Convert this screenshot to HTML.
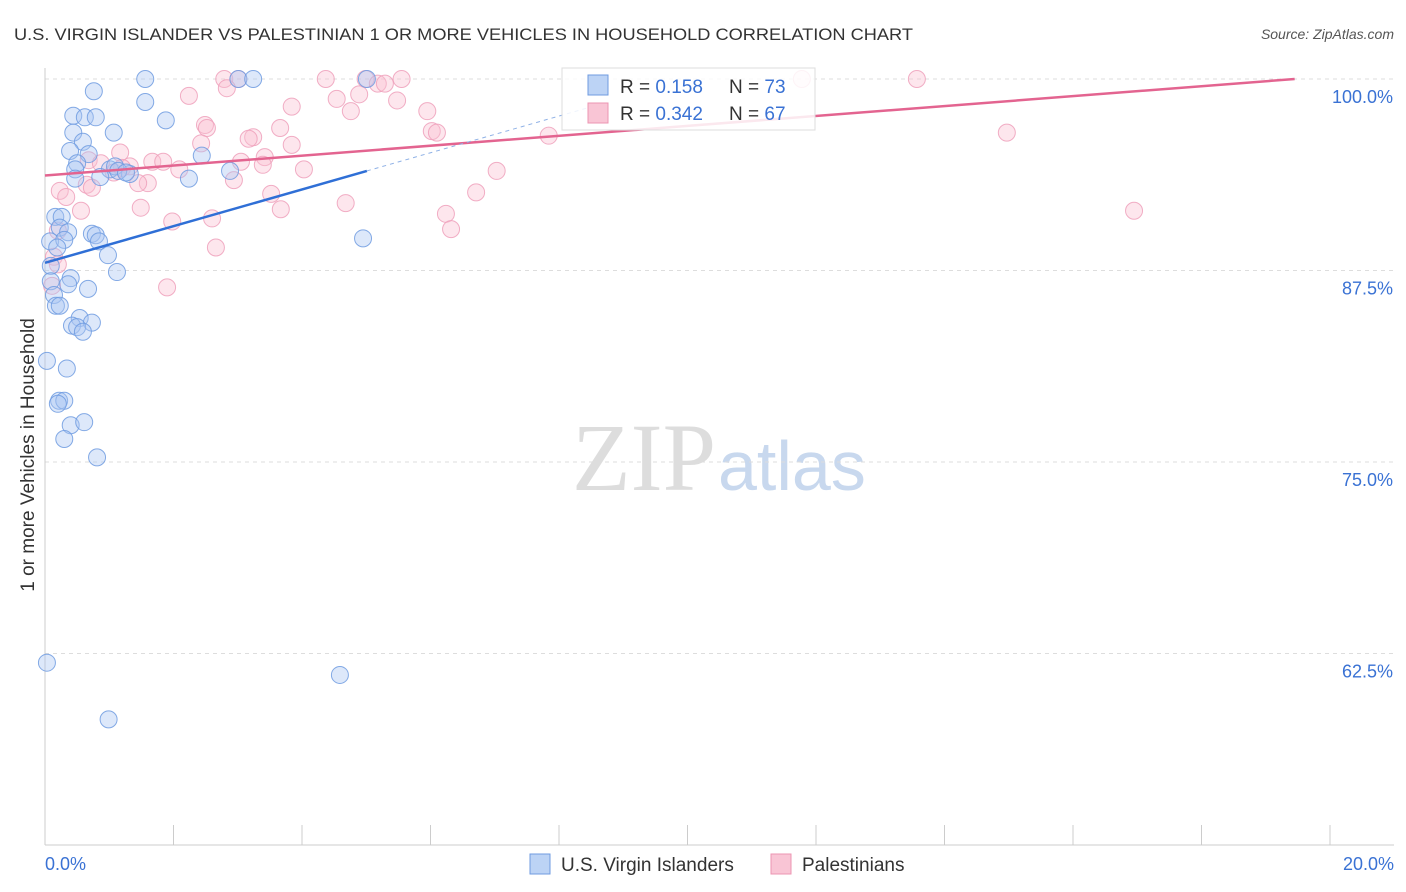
<!DOCTYPE html>
<html><head><meta charset="utf-8"><style>
body{margin:0;background:#fff;font-family:"Liberation Sans",sans-serif}
svg{display:block}
</style></head><body>
<svg id="c" width="1406" height="892">
<text x="14" y="40" font-size="17" fill="#333" textLength="899" lengthAdjust="spacingAndGlyphs">U.S. VIRGIN ISLANDER VS PALESTINIAN 1 OR MORE VEHICLES IN HOUSEHOLD CORRELATION CHART</text>
<text x="1394" y="39" font-size="14" fill="#555" font-style="italic" text-anchor="end">Source: ZipAtlas.com</text>
<text x="716" y="490" font-size="96" fill="#ddd" text-anchor="end" font-family="Liberation Serif,serif">ZIP</text>
<text x="718" y="490" font-size="70" fill="#c8d8ee">atlas</text>
<text transform="translate(34,455) rotate(-90)" font-size="19" fill="#333" text-anchor="middle">1 or more Vehicles in Household</text>
<g id="grid"></g><g id="pts"></g><g id="lines"></g>
<g>
<rect x="562" y="68" width="253" height="62" fill="#fff" fill-opacity="0.85" stroke="#ddd"/>
<rect x="588" y="75" width="20" height="20" fill="#bcd3f5" stroke="#6f9be0"/>
<rect x="588" y="103" width="20" height="20" fill="#f9c5d5" stroke="#ec95b2"/>
<text x="620" y="93" font-size="19" fill="#333">R = <tspan fill="#3a72d4">0.158</tspan></text>
<text x="729" y="93" font-size="19" fill="#333">N = <tspan fill="#3a72d4">73</tspan></text>
<text x="620" y="120" font-size="19" fill="#333">R = <tspan fill="#3a72d4">0.342</tspan></text>
<text x="729" y="120" font-size="19" fill="#333">N = <tspan fill="#3a72d4">67</tspan></text>
</g>
<g>
<rect x="530" y="854" width="20" height="20" fill="#bcd3f5" stroke="#6f9be0"/>
<text x="561" y="871" font-size="19" fill="#333">U.S. Virgin Islanders</text>
<rect x="771" y="854" width="20" height="20" fill="#f9c5d5" stroke="#ec95b2"/>
<text x="802" y="871" font-size="19" fill="#333">Palestinians</text>
</g>
</svg>
<script>
const yTicks=[100,87.5,75,62.5];
const yTickLabels=["100.0%","87.5%","75.0%","62.5%"];
const xTickLabels=["0.0%","20.0%"];
const blueX=[1.56,3.01,3.24,5.01,0.76,1.56,0.44,0.62,0.79,1.88,0.44,1.07,0.59,0.39,0.68,2.44,0.5,0.47,1.01,1.09,1.32,0.86,0.47,2.24,2.88,0.16,0.26,0.23,0.36,0.73,0.79,0.08,0.3,0.84,0.19,0.98,4.95,0.09,1.12,0.4,0.09,0.36,0.67,0.14,0.17,0.23,0.54,0.73,0.42,0.5,0.59,0.03,0.34,0.22,0.3,0.2,0.4,0.61,0.3,0.81,0.03,4.59,0.99,1.14,1.26];
const blueY=[100,100,100,100,99.2,98.5,97.6,97.5,97.5,97.3,96.5,96.5,95.9,95.3,95.1,95.0,94.5,94.1,94.1,94.3,93.8,93.6,93.5,93.5,94.0,91.0,91.0,90.3,90.0,89.9,89.8,89.4,89.5,89.4,89.0,88.5,89.6,87.8,87.4,87.0,86.8,86.6,86.3,85.9,85.2,85.2,84.4,84.1,83.9,83.8,83.5,81.6,81.1,79.0,79.0,78.8,77.4,77.6,76.5,75.3,61.9,61.1,58.2,94.0,93.9];
const pinkX=[2.79,3.01,4.37,4.99,5.18,5.29,5.55,11.78,13.57,2.83,2.24,4.89,3.84,4.54,5.48,4.76,5.95,2.49,2.52,3.66,6.02,6.1,7.84,14.97,3.24,3.17,2.43,3.84,1.17,0.68,1.67,1.84,3.05,3.42,3.39,2.09,4.03,1.32,0.87,1.07,2.94,1.6,1.45,0.65,0.23,0.73,0.33,3.52,6.71,7.03,1.49,3.67,4.68,0.56,2.6,1.98,6.24,6.32,16.95,2.66,0.2,0.14,0.2,1.9,0.11,1.2];
const pinkY=[100,100,100,100,99.7,99.7,100,100,100,99.4,98.9,99.0,98.2,98.7,98.6,97.9,97.9,97.0,96.8,96.8,96.6,96.5,96.3,96.5,96.2,96.1,95.8,95.7,95.2,94.7,94.6,94.6,94.6,94.9,94.4,94.1,94.1,94.3,94.5,93.9,93.4,93.2,93.2,93.1,92.7,92.9,92.3,92.5,92.6,94.0,91.6,91.5,91.9,91.4,90.9,90.7,91.2,90.2,91.4,89.0,90.1,88.4,87.9,86.4,86.5,94.2];
const blueLine=[[0,88.0],[5.01,94.0]], blueDash=[[5.01,94.0],[8.6,98.3]];
const pinkLine=[[0,93.7],[19.45,100]];
const X=v=>45+v/20*1285, Y=v=>79+(100-v)*15.32;
const NS="http://www.w3.org/2000/svg";
function mk(t,a,p){const e=document.createElementNS(NS,t);for(const k in a)e.setAttribute(k,a[k]);p.appendChild(e);return e;}
const g=document.getElementById('grid');
yTicks.forEach((v,i)=>{
 const l=mk('line',{x1:45,x2:1394,y1:Y(v),y2:Y(v),stroke:'#ddd','stroke-dasharray':'4,4'},g);
 
 
 const t=mk('text',{x:1393,y:Y(v)+24,'font-size':18,fill:'#3a72d4','text-anchor':'end'},g);t.textContent=yTickLabels[i];
 
 
});
const ax=mk('line',{x1:45,x2:45,y1:68,y2:845,stroke:'#ccc'},g);


const bx=mk('line',{x1:45,x2:1394,y1:845,y2:845,stroke:'#ccc'},g);


for(let i=0;i<=10;i++){const t=mk('line',{x1:X(i*2),x2:X(i*2),y1:825,y2:845,stroke:'#ccc'},g);
 
 }
[[0,'start',45],[20,'end',1394]].forEach((d,i)=>{const t=mk('text',{x:d[2],y:870,'font-size':18,fill:'#3a72d4','text-anchor':d[1]},g);t.textContent=xTickLabels[i];
 
 });
const p=document.getElementById('pts');
function pts(xs,ys,f,s,n){xs.forEach((x,i)=>{const c=mk('circle',{cx:X(x),cy:Y(ys[i]),r:8.5,fill:f,'fill-opacity':0.4,stroke:s,'stroke-width':1,'stroke-opacity':0.85},p);
 
 });}
pts(pinkX,pinkY,'#f9c0d2','#eea0bb','palestinian-point');
pts(blueX,blueY,'#a9c6f2','#6f9be0','usvi-point');
const L=document.getElementById('lines');
function ln(a,s,w,d,n){const e=mk('line',{x1:X(a[0][0]),y1:Y(a[0][1]),x2:X(a[1][0]),y2:Y(a[1][1]),stroke:s,'stroke-width':w},L);if(d)e.setAttribute('stroke-dasharray',d);
 
 }
ln(pinkLine,'#e36490',2.5,null,'palestinian-trendline');
ln(blueLine,'#2f6fd6',2.5,null,'usvi-trendline');
ln(blueDash,'#8fb1e6',1,'4,4','usvi-trendline-extension');
</script>
</body></html>
